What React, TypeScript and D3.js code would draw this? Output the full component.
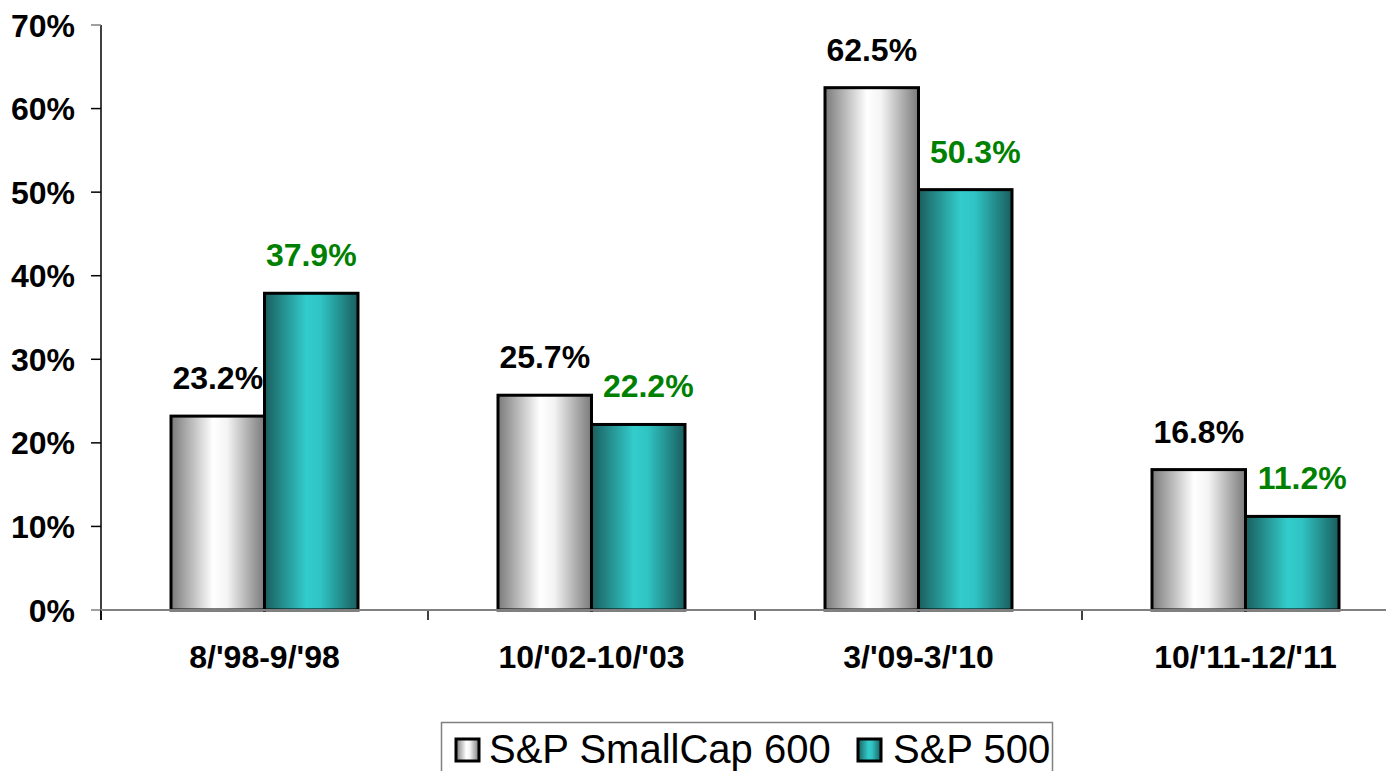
import React from "react";
import * as d3 from "d3";

const categories = ["8/'98-9/'98", "10/'02-10/'03", "3/'09-3/'10", "10/'11-12/'11"];
const smallCap = [23.2, 25.7, 62.5, 16.8];
const sp500 = [37.9, 22.2, 50.3, 11.2];
const seriesNames = ["S&P SmallCap 600", "S&P 500"];
const yTicks = [0, 10, 20, 30, 40, 50, 60, 70];

const W = 1394;
const H = 779;
const FONT = "'Liberation Sans', Arial, sans-serif";

export default function App() {
  const left = 101;
  const band = 327;
  const x = d3.scaleBand<string>().domain(categories).range([left, left + band * 4]).paddingInner(0).paddingOuter(0);
  const y = d3.scaleLinear().domain([0, 70]).range([610, 25]);
  const barW = 93.5;
  const series = [
    { name: seriesNames[0], values: smallCap, fill: "url(#gGray)", labelColor: "#000" },
    { name: seriesNames[1], values: sp500, fill: "url(#gTeal)", labelColor: "#008000" },
  ];
  return (
    <div style={{ margin: -8 }}>
      <svg width={W} height={H} style={{ display: "block", fontFamily: FONT }}>
        <defs>
          <linearGradient id="gGray" x1="0" x2="1" y1="0" y2="0">
            <stop offset="0" stopColor="#7a7a7a" />
            <stop offset="0.45" stopColor="#ffffff" />
            <stop offset="0.6" stopColor="#f4f4f4" />
            <stop offset="1" stopColor="#7a7a7a" />
          </linearGradient>
          <linearGradient id="gTeal" x1="0" x2="1" y1="0" y2="0">
            <stop offset="0" stopColor="#1a5e5e" />
            <stop offset="0.45" stopColor="#33cccc" />
            <stop offset="0.6" stopColor="#30c4c4" />
            <stop offset="1" stopColor="#1a5e5e" />
          </linearGradient>
        </defs>
        {/* y axis */}
        <line x1={left} x2={left} y1={y(70)} y2={620} stroke="#000" strokeWidth={1.5} />
        {yTicks.map((t) => (
          <g key={t}>
            <line x1={left - 10} x2={left} y1={y(t)} y2={y(t)} stroke={t === 70 || t === 0 ? "#808080" : "#000"} strokeWidth={1.5} />
            <text x={75} y={y(t)} dy="0.36em" textAnchor="end" fontSize={32} fontWeight="bold">
              {t}%
            </text>
          </g>
        ))}
        {/* x axis */}
        {categories.map((c) => (
          <line key={c} x1={x(c)!} x2={x(c)!} y1={610} y2={620} stroke="#000" strokeWidth={1.5} />
        ))}
        {/* bars */}
        {categories.map((c, ci) => {
          const cx = x(c)! + band / 2;
          return (
            <g key={c}>
              {series.map((s, si) => {
                const v = s.values[ci];
                const bx = cx - barW + si * barW;
                return (
                  <rect key={s.name} x={bx} y={y(v)} width={barW} height={y(0) - y(v)} fill={s.fill} stroke="#000" strokeWidth={3} />
                );
              })}
            </g>
          );
        })}
        <line x1={left} x2={W} y1={610} y2={610} stroke="#808080" strokeWidth={2} />
        {categories.map((c, ci) => {
          const cx = x(c)! + band / 2;
          return (
            <g key={c + "l"}>
              {series.map((s, si) => {
                const v = s.values[ci];
                const bx = cx - barW + si * barW;
                // second-series labels shift right when the neighbouring bar is taller
                const shift = si === 1 && smallCap[ci] > sp500[ci] ? 10 : 0;
                return (
                  <text key={s.name} x={bx + barW / 2 + shift} y={y(v) - 27} textAnchor="middle" fontSize={32} fontWeight="bold" fill={s.labelColor}>
                    {v.toFixed(1)}%
                  </text>
                );
              })}
              <text x={cx} y={668} textAnchor="middle" fontSize={32} fontWeight="bold">
                {c}
              </text>
            </g>
          );
        })}
        {/* legend */}
        <rect x={441.5} y={722.5} width={611} height={70} fill="#fff" stroke="#808080" strokeWidth={1.5} />
        <rect x={456} y={739} width={23} height={22} fill="url(#gGray)" stroke="#000" strokeWidth={3} />
        <text x={489} y={763} fontSize={40}>{seriesNames[0]}</text>
        <rect x={858} y={739} width={23} height={22} fill="url(#gTeal)" stroke="#000" strokeWidth={3} />
        <text x={893} y={763} fontSize={40}>{seriesNames[1]}</text>
      </svg>
    </div>
  );
}
